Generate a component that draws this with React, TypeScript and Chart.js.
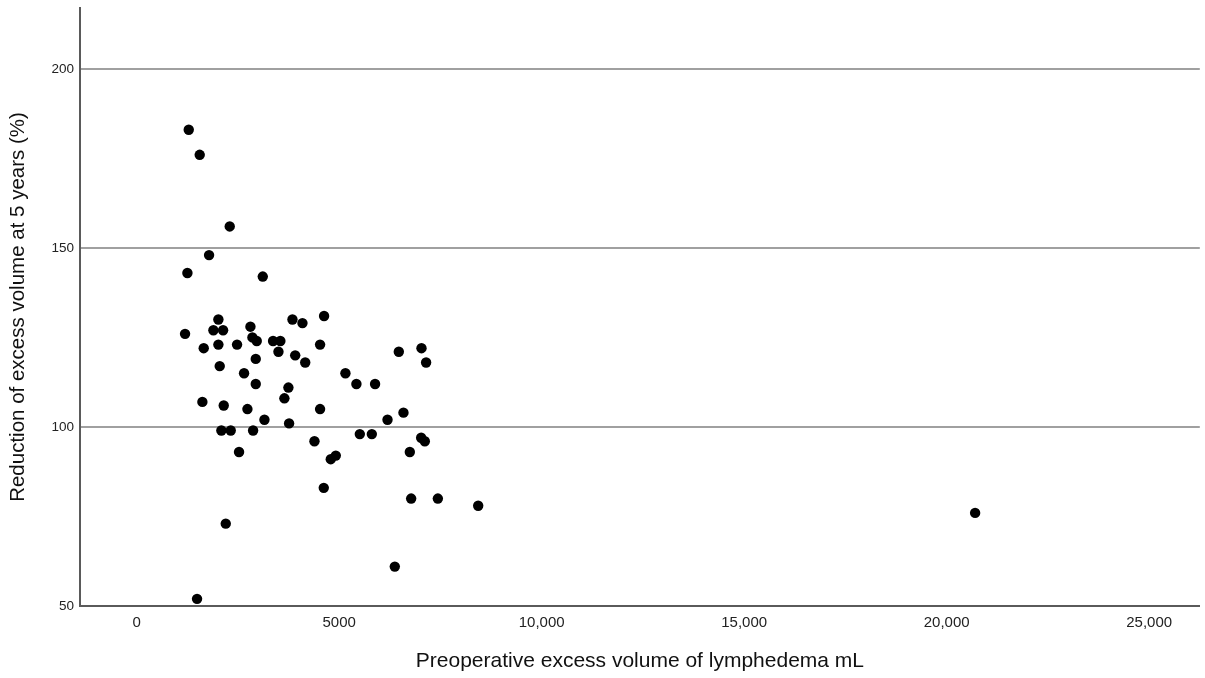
import React, { useEffect, useRef } from "react";
import { Chart, registerables } from "chart.js";

Chart.register(...registerables);

// Preoperative excess volume (mL)
const excessVolume: number[] = [
  1285, 1556, 2297, 1787, 1252, 3113, 2017, 3846, 4093, 4627,
  1194, 1894, 2133, 2808, 2857, 2964, 3367, 3547, 1655, 2017,
  2478, 3500, 4528, 3914, 4161, 2940, 2050, 2651, 2940, 3746,
  3647, 1622, 2149, 2734, 4528, 3154, 3763, 2091, 2322, 2874,
  4389, 2527, 4792, 4916, 4619, 2199, 1490, 5154, 5425, 5886,
  5509, 5806, 6472, 7032, 7146, 6193, 6587, 7024, 7114, 6744,
  6777, 7436, 8432, 6373, 20702,
];

// Reduction of excess volume at 5 years (%)
const reduction: number[] = [
  183, 176, 156, 148, 143, 142, 130, 130, 129, 131,
  126, 127, 127, 128, 125, 124, 124, 124, 122, 123,
  123, 121, 123, 120, 118, 119, 117, 115, 112, 111,
  108, 107, 106, 105, 105, 102, 101, 99, 99, 99,
  96, 93, 91, 92, 83, 73, 52, 115, 112, 112,
  98, 98, 121, 122, 118, 102, 104, 97, 96, 93,
  80, 80, 78, 61, 76,
];

const xTickValues: number[] = [0, 5000, 10000, 15000, 20000, 25000];
const xTickLabels: string[] = ["0", "5000", "10,000", "15,000", "20,000", "25,000"];
const yTickValues: number[] = [50, 100, 150, 200];
const yTickLabels: string[] = ["50", "100", "150", "200"];

const xTitle = "Preoperative excess volume of lymphedema mL";
const yTitle = "Reduction of excess volume at 5 years (%)";

const FONT = "'Liberation Sans', Arial, Helvetica, sans-serif";

export default function App() {
  const canvasRef = useRef<HTMLCanvasElement | null>(null);

  useEffect(() => {
    const canvas = canvasRef.current;
    if (!canvas) return;
    const points = excessVolume.map((x, i) => ({ x, y: reduction[i] }));
    const chart = new Chart(canvas, {
      type: "scatter",
      data: {
        datasets: [
          {
            data: points,
            backgroundColor: "#000000",
            borderColor: "#000000",
            borderWidth: 0,
            pointRadius: 5.2,
            pointHoverRadius: 5.2,
          },
        ],
      },
      options: {
        animation: false,
        responsive: false,
        devicePixelRatio: 1,
        layout: { padding: { top: 8, right: 5, left: 0, bottom: 0 } },
        plugins: {
          legend: { display: false },
          tooltip: { enabled: false },
          title: { display: false },
        },
        scales: {
          x: {
            type: "linear",
            position: "bottom",
            min: -1400,
            max: 26250,
            afterBuildTicks: (scale: any) => {
              scale.ticks = xTickValues.map((v) => ({ value: v }));
            },
            afterFit: (scale: any) => {
              scale.height = 72;
              scale.paddingLeft = 0;
              scale.paddingRight = 0;
            },
            grid: { display: false, drawTicks: false },
            border: { display: true, color: "#5a5a5a", width: 2 },
            ticks: {
              padding: 8,
              color: "#222222",
              font: { family: FONT, size: 15 },
              maxRotation: 0,
              autoSkip: false,
              callback: (value: any) => {
                const i = xTickValues.indexOf(Number(value));
                return i >= 0 ? xTickLabels[i] : "";
              },
            },
            title: {
              display: true,
              text: xTitle,
              color: "#111111",
              font: { family: FONT, size: 21 },
              padding: { top: 0, bottom: 4 },
            },
          },
          y: {
            type: "linear",
            position: "left",
            min: 50,
            max: 217,
            afterBuildTicks: (scale: any) => {
              scale.ticks = yTickValues.map((v) => ({ value: v }));
            },
            afterFit: (scale: any) => {
              scale.width = 80;
              scale.paddingTop = 0;
              scale.paddingBottom = 0;
            },
            grid: { display: true, drawTicks: false, color: "#a0a0a0", lineWidth: 2 },
            border: { display: true, color: "#5a5a5a", width: 2 },
            ticks: {
              padding: 6,
              color: "#222222",
              font: { family: FONT, size: 13.5 },
              autoSkip: false,
              callback: (value: any) => {
                const i = yTickValues.indexOf(Number(value));
                return i >= 0 ? yTickLabels[i] : "";
              },
            },
            title: {
              display: true,
              text: yTitle,
              color: "#111111",
              font: { family: FONT, size: 20.5 },
              padding: { top: 6, bottom: 0 },
            },
          },
        },
      },
    });
    return () => chart.destroy();
  }, []);

  return (
    <div style={{ position: "absolute", left: 0, top: 0, width: 1205, height: 678, background: "#ffffff" }}>
      <canvas ref={canvasRef} width={1205} height={678} style={{ display: "block" }} />
    </div>
  );
}
